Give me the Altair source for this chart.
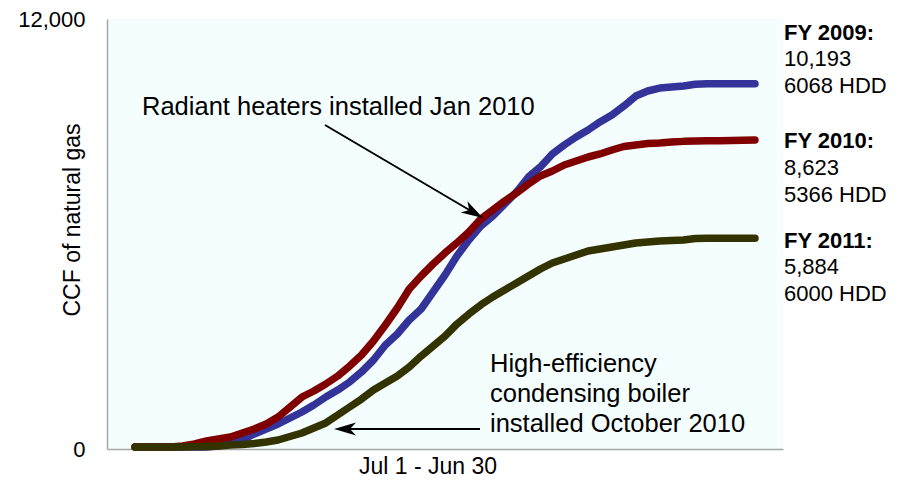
import altair as alt
import pandas as pd

weeks = list(range(53))

fy2009 = [56, 56, 56, 56, 56, 56, 56,
          84, 140, 251, 419, 558, 698, 865, 1033, 1228, 1451, 1646, 1870, 2149, 2484,
          2902, 3209, 3600, 3907, 4381, 4856, 5386, 5833, 6223, 6502, 6837, 7172, 7591,
          7870, 8233, 8484, 8707, 8902, 9126, 9321, 9572, 9851, 9991, 10074, 10102, 10130,
          10180, 10193, 10193, 10193, 10193, 10193]

fy2010 = [56, 56, 56, 56,
          84, 140, 223, 279, 335, 447, 558, 698, 893, 1172, 1451, 1619, 1814, 2037, 2316,
          2623, 3014, 3460, 3935, 4465, 4828, 5163, 5470, 5749, 6056, 6419, 6670, 6921,
          7144, 7395, 7619, 7758, 7926, 8037, 8149, 8233, 8344, 8442, 8484, 8526, 8540,
          8567, 8585, 8595, 8600, 8605, 8610, 8616, 8623]

fy2011 = [56, 56, 56, 56, 56,
          61, 70, 84, 112, 126, 153, 195, 251, 349, 447, 586, 726, 949, 1172, 1395, 1646,
          1842, 2037, 2288, 2595, 2874, 3153, 3488, 3767, 4019, 4242, 4437, 4633, 4828,
          5023, 5191, 5302, 5414, 5526, 5581, 5637, 5693, 5749, 5777, 5805, 5819, 5833,
          5874, 5884, 5884, 5884, 5884, 5884]

series_names = ["FY 2009", "FY 2010", "FY 2011"]
series_colors = ["#333399", "#800000", "#333300"]

rows = []
for name, vals in zip(series_names, [fy2009, fy2010, fy2011]):
    for w, v in zip(weeks, vals):
        rows.append({"week": w, "ccf": v, "year": name})
df = pd.DataFrame(rows)

FONT = "Liberation Sans"

x_scale = alt.Scale(domain=[-2.35, 54.35], nice=False, zero=False)
y_scale = alt.Scale(domain=[0, 12000], nice=False)

x_axis = alt.Axis(title=None, labels=False, ticks=False, grid=False,
                  domainColor="#a6a6a6", domainWidth=1.5)
y_axis = alt.Axis(title=None, values=[0, 12000], format=",d", ticks=False, grid=False,
                  labelPadding=22, labelFontSize=22, labelFont=FONT, labelColor="black",
                  domainColor="#a6a6a6", domainWidth=1.5)


def series(name, color):
    return alt.Chart(df).transform_filter(alt.datum.year == name).mark_line(
        color=color, strokeWidth=7.5, strokeCap="round", strokeJoin="round"
    ).encode(
        x=alt.X("week:Q", scale=x_scale, axis=x_axis),
        y=alt.Y("ccf:Q", scale=y_scale, axis=y_axis),
    )


lines = [series(n, c) for n, c in zip(series_names, series_colors)]

dummy = pd.DataFrame({"a": [0]})


def text(lines_, x, y, size=22, weight="normal", align="left", angle=0, baseline="alphabetic", lh=27):
    t = lines_ if len(lines_) > 1 else lines_[0]
    kw = dict(text=t, font=FONT, fontSize=size, fontWeight=weight, align=align,
              baseline=baseline, color="black", lineHeight=lh)
    if angle:
        kw["angle"] = angle
    return alt.Chart(dummy).mark_text(**kw).encode(x=alt.value(x), y=alt.value(y))


arrow_path = "M1,0 L-1,-0.6 L-0.45,0 L-1,0.6 Z"

rule1 = alt.Chart(dummy).mark_rule(color="black", strokeWidth=2).encode(
    x=alt.value(218), y=alt.value(106), x2=alt.value(370), y2=alt.value(195.5))
head1 = alt.Chart(dummy).mark_point(shape=arrow_path, filled=True, color="black",
                                    opacity=1, size=484, angle=30.5).encode(
    x=alt.value(366.5), y=alt.value(193.4))
rule2 = alt.Chart(dummy).mark_rule(color="black", strokeWidth=2).encode(
    x=alt.value(373), y=alt.value(410), x2=alt.value(232), y2=alt.value(410))
head2 = alt.Chart(dummy).mark_point(shape=arrow_path, filled=True, color="black",
                                    opacity=1, size=484, angle=180).encode(
    x=alt.value(238), y=alt.value(410))

annotations = [
    text(["Radiant heaters installed Jan 2010"], 35, 96, size=25.5),
    text(["High-efficiency", "condensing boiler", "installed October 2010"], 383, 353, size=25.5, lh=30),
    text(["FY 2009:"], 677, 21, weight="bold"),
    text(["10,193", "6068 HDD"], 677, 47),
    text(["FY 2010:"], 677, 129, weight="bold"),
    text(["8,623", "5366 HDD"], 677, 156),
    text(["FY 2011:"], 677, 229, weight="bold"),
    text(["5,884", "6000 HDD"], 677, 255),
    text(["Jul 1 - Jun 30"], 321, 455, size=23, align="center"),
    text(["CCF of natural gas"], -34, 201, size=23, align="center", angle=270, baseline="middle"),
]

chart = alt.layer(*lines, rule1, head1, rule2, head2, *annotations).properties(
    width=676, height=430,
    autosize=alt.AutoSizeParams(type="none"),
    padding={"left": 99, "top": 11, "right": 107, "bottom": 32},
).configure_view(stroke=None, fill="#f4fefe")

chart.save("out.html", embed_options={"renderer": "svg", "actions": False})
